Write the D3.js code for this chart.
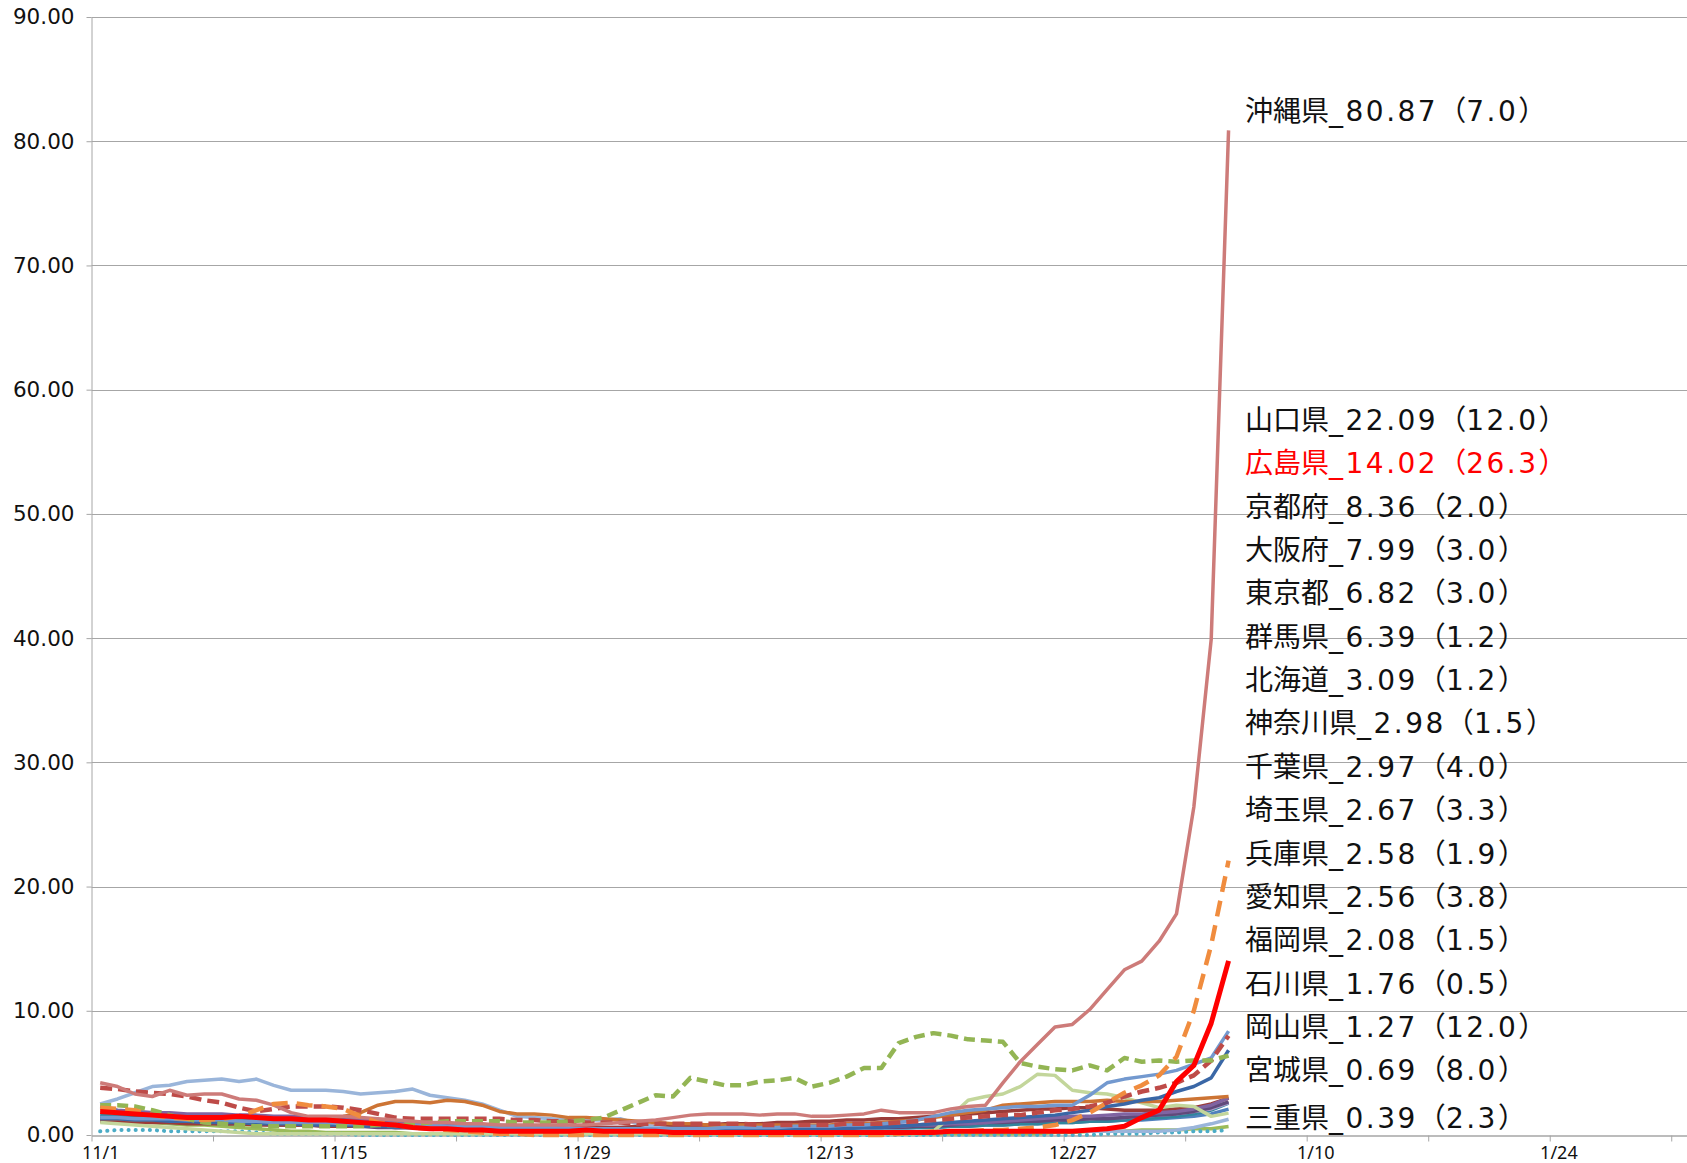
<!DOCTYPE html>
<html>
<head>
<meta charset="utf-8">
<script src="https://cdn.jsdelivr.net/npm/d3@7"></script>
<style>
  body { margin: 0; background: #fff; }
</style>
</head>
<body>
<svg id="chart"></svg>
<script>
// Dimensions of the picture.
var width = 1687;
var height = 1163;

// Date range of the axis (one slot per day) and labels.
var startDay = "2021-11-01";
var endDay = "2022-02-01";
var tickLabels = ["11/1", "11/15", "11/29", "12/13", "12/27", "1/10", "1/24"];
var yTicks = [0, 10, 20, 30, 40, 50, 60, 70, 80, 90];

// Daily values, 11/1 .. 1/5 (Nov, Dec, Jan on separate lines).
var okinawa = [4.2, 3.9, 3.3, 3.1, 3.6, 3.2, 3.3, 3.3, 2.9, 2.8, 2.4, 1.8, 1.5, 1.5, 1.5, 1.4, 1.3, 1.2, 1.1, 1.0, 1.0, 0.9, 0.9, 0.8, 0.8, 0.8, 0.8, 0.8, 0.8, 0.9,
  1.0, 1.1, 1.2, 1.4, 1.6, 1.7, 1.7, 1.7, 1.6, 1.7, 1.7, 1.5, 1.5, 1.6, 1.7, 2.0, 1.8, 1.8, 1.8, 2.1, 2.3, 2.4, 4.2, 5.9, 7.3, 8.7, 8.9, 10.1, 11.7, 13.3, 14.0,
  15.6, 17.8, 26.4, 39.9, 80.87];
var yamaguchi = [2.2, 2.1, 2.0, 1.6, 1.4, 1.3, 1.2, 1.3, 1.5, 2.0, 2.5, 2.6, 2.4, 2.3, 2.1, 1.5, 1.0, 0.8, 0.6, 0.5, 0.4, 0.3, 0.2, 0.1, 0.1, 0.0, 0.0, 0.0, 0.0, 0.0,
  0.0, 0.0, 0.0, 0.0, 0.0, 0.0, 0.0, 0.0, 0.0, 0.0, 0.0, 0.0, 0.0, 0.0, 0.0, 0.0, 0.1, 0.2, 0.3, 0.3, 0.3, 0.4, 0.4, 0.5, 0.6, 0.8, 1.2, 1.8, 2.6, 3.4, 4.0,
  4.8, 6.3, 10.0, 15.3, 22.09];
var hiroshima = [1.9, 1.8, 1.7, 1.6, 1.5, 1.4, 1.4, 1.4, 1.5, 1.4, 1.3, 1.3, 1.2, 1.2, 1.1, 1.0, 0.9, 0.8, 0.6, 0.5, 0.5, 0.4, 0.4, 0.3, 0.3, 0.3, 0.3, 0.3, 0.4, 0.3,
  0.3, 0.3, 0.3, 0.2, 0.2, 0.2, 0.2, 0.2, 0.2, 0.2, 0.2, 0.2, 0.2, 0.2, 0.2, 0.2, 0.2, 0.2, 0.2, 0.3, 0.3, 0.3, 0.3, 0.3, 0.3, 0.3, 0.3, 0.4, 0.5, 0.7, 1.4,
  2.0, 4.3, 5.6, 9.0, 14.02];
var kyoto = [1.4, 1.4, 1.3, 1.3, 1.3, 1.2, 1.2, 1.2, 1.1, 1.1, 1.0, 1.0, 1.0, 1.0, 0.9, 0.9, 0.9, 0.8, 0.8, 0.8, 0.7, 0.7, 0.7, 0.6, 0.6, 0.6, 0.6, 0.5, 0.5, 0.5,
  0.5, 0.5, 0.5, 0.5, 0.5, 0.5, 0.6, 0.6, 0.6, 0.6, 0.7, 0.7, 0.7, 0.8, 0.8, 0.9, 1.0, 1.2, 1.5, 1.8, 2.0, 2.1, 2.2, 2.3, 2.3, 2.4, 2.4, 3.2, 4.2, 4.5, 4.7,
  4.9, 5.2, 5.7, 6.2, 8.36];
var osaka = [3.8, 3.7, 3.5, 3.4, 3.3, 3.1, 2.8, 2.6, 2.2, 1.9, 2.1, 2.3, 2.3, 2.3, 2.2, 2.0, 1.7, 1.4, 1.3, 1.3, 1.3, 1.3, 1.3, 1.3, 1.2, 1.2, 1.1, 1.1, 1.0, 1.0,
  1.0, 0.9, 0.9, 0.9, 0.9, 0.9, 0.9, 0.9, 0.8, 0.8, 0.8, 0.8, 0.8, 0.9, 0.9, 0.9, 1.0, 1.1, 1.2, 1.3, 1.4, 1.5, 1.6, 1.6, 1.8, 2.0, 2.1, 2.3, 2.6, 3.1, 3.5,
  3.8, 4.2, 4.8, 6.0, 7.99];
var tokyo = [1.3, 1.3, 1.2, 1.2, 1.1, 1.1, 1.0, 1.0, 1.0, 0.9, 0.9, 0.9, 0.8, 0.8, 0.8, 0.7, 0.7, 0.6, 0.6, 0.6, 0.5, 0.5, 0.5, 0.4, 0.4, 0.4, 0.4, 0.4, 0.4, 0.4,
  0.4, 0.4, 0.4, 0.4, 0.4, 0.4, 0.4, 0.4, 0.4, 0.5, 0.5, 0.5, 0.5, 0.5, 0.6, 0.6, 0.7, 0.8, 0.9, 1.0, 1.1, 1.2, 1.3, 1.4, 1.5, 1.6, 1.8, 2.0, 2.3, 2.5, 2.8,
  3.0, 3.5, 3.9, 4.6, 6.82];
var gunma = [2.4, 2.4, 2.3, 2.0, 1.6, 1.3, 1.0, 0.9, 0.8, 0.7, 0.7, 0.7, 0.7, 0.7, 0.7, 0.7, 0.8, 0.8, 0.9, 1.0, 1.1, 1.1, 1.1, 1.1, 1.0, 1.0, 1.0, 1.1, 1.2, 1.4,
  2.0, 2.6, 3.2, 3.1, 4.6, 4.3, 4.0, 4.0, 4.3, 4.4, 4.6, 3.9, 4.2, 4.7, 5.4, 5.4, 7.4, 7.9, 8.2, 8.0, 7.7, 7.6, 7.5, 5.8, 5.5, 5.3, 5.2, 5.6, 5.2, 6.2, 5.9,
  6.0, 5.9, 6.0, 6.0, 6.39];
var hokkaido = [1.3, 1.3, 1.2, 1.2, 1.2, 1.1, 1.1, 1.1, 1.1, 1.0, 1.0, 1.1, 1.2, 1.3, 1.5, 1.8, 2.4, 2.7, 2.7, 2.6, 2.8, 2.7, 2.4, 1.9, 1.7, 1.7, 1.6, 1.4, 1.4, 1.3,
  1.2, 1.1, 1.0, 0.9, 0.9, 0.8, 0.8, 0.8, 0.8, 0.8, 0.8, 0.8, 0.8, 0.9, 0.9, 1.0, 1.1, 1.2, 1.4, 1.6, 1.8, 2.0, 2.4, 2.5, 2.6, 2.7, 2.7, 2.7, 2.8, 2.7, 2.7,
  2.7, 2.8, 2.9, 3.0, 3.09];
var kanagawa = [2.3, 2.0, 1.9, 1.8, 1.8, 1.7, 1.7, 1.7, 1.6, 1.6, 1.5, 1.5, 1.4, 1.4, 1.3, 1.3, 1.2, 1.1, 1.0, 0.9, 0.8, 0.8, 0.7, 0.7, 0.6, 0.6, 0.6, 0.5, 0.5, 0.5,
  0.5, 0.5, 0.5, 0.5, 0.5, 0.5, 0.5, 0.5, 0.5, 0.5, 0.6, 0.6, 0.6, 0.6, 0.6, 0.7, 0.7, 0.8, 0.8, 0.9, 0.9, 1.0, 1.1, 1.2, 1.3, 1.4, 1.5, 1.5, 1.6, 1.7, 1.7,
  1.8, 1.9, 2.1, 2.4, 2.98];
var chiba = [1.1, 1.1, 1.0, 1.0, 1.0, 0.9, 0.9, 0.9, 0.9, 0.8, 0.8, 0.8, 0.8, 0.7, 0.7, 0.7, 0.7, 0.6, 0.6, 0.6, 0.6, 0.5, 0.5, 0.5, 0.5, 0.5, 0.5, 0.5, 0.6, 0.6,
  0.6, 0.7, 0.7, 0.8, 0.8, 0.8, 0.9, 0.9, 0.9, 1.0, 1.0, 1.1, 1.1, 1.2, 1.2, 1.3, 1.3, 1.4, 1.5, 1.6, 1.7, 1.8, 1.9, 2.0, 2.1, 2.1, 2.2, 2.2, 2.1, 2.0, 2.0,
  2.0, 2.1, 2.2, 2.5, 2.97];
var saitama = [1.2, 1.2, 1.1, 1.1, 1.0, 1.0, 1.0, 0.9, 0.9, 0.9, 0.8, 0.8, 0.8, 0.7, 0.7, 0.7, 0.6, 0.6, 0.6, 0.5, 0.5, 0.5, 0.5, 0.4, 0.4, 0.4, 0.4, 0.4, 0.4, 0.4,
  0.4, 0.4, 0.4, 0.4, 0.4, 0.4, 0.4, 0.4, 0.4, 0.4, 0.4, 0.5, 0.5, 0.5, 0.5, 0.6, 0.6, 0.7, 0.7, 0.8, 0.9, 1.0, 1.0, 1.1, 1.1, 1.2, 1.2, 1.3, 1.3, 1.4, 1.5,
  1.6, 1.7, 1.9, 2.2, 2.67];
var hyogo = [2.0, 1.9, 1.9, 1.8, 1.7, 1.6, 1.6, 1.5, 1.5, 1.4, 1.4, 1.3, 1.3, 1.2, 1.2, 1.1, 1.1, 1.0, 1.0, 0.9, 0.9, 0.8, 0.8, 0.8, 0.7, 0.7, 0.7, 0.6, 0.6, 0.6,
  0.6, 0.6, 0.6, 0.6, 0.6, 0.6, 0.6, 0.6, 0.6, 0.6, 0.6, 0.6, 0.6, 0.7, 0.7, 0.7, 0.8, 0.8, 0.9, 0.9, 1.0, 1.0, 1.1, 1.1, 1.2, 1.2, 1.3, 1.3, 1.4, 1.4, 1.5,
  1.6, 1.7, 1.9, 2.1, 2.58];
var aichi = [1.6, 1.5, 1.4, 1.5, 1.4, 1.3, 1.3, 1.2, 1.2, 1.1, 1.1, 1.0, 1.0, 0.9, 0.9, 0.8, 0.8, 0.7, 0.7, 0.6, 0.6, 0.5, 0.5, 0.5, 0.4, 0.4, 0.4, 0.4, 0.3, 0.3,
  0.3, 0.3, 0.3, 0.3, 0.3, 0.3, 0.3, 0.3, 0.3, 0.3, 0.3, 0.3, 0.4, 0.4, 0.4, 0.5, 0.5, 0.6, 0.6, 0.7, 0.7, 0.8, 0.8, 0.9, 0.9, 1.0, 1.0, 1.1, 1.1, 1.2, 1.3,
  1.4, 1.5, 1.7, 2.0, 2.56];
var fukuoka = [1.5, 1.4, 1.4, 1.3, 1.3, 1.2, 1.2, 1.1, 1.1, 1.0, 1.0, 1.0, 0.9, 0.9, 0.9, 0.8, 0.8, 0.8, 0.7, 0.7, 0.7, 0.6, 0.6, 0.6, 0.5, 0.5, 0.5, 0.5, 0.4, 0.4,
  0.4, 0.4, 0.4, 0.4, 0.4, 0.4, 0.4, 0.4, 0.4, 0.4, 0.4, 0.4, 0.4, 0.4, 0.5, 0.5, 0.5, 0.6, 0.6, 0.7, 0.7, 0.8, 0.8, 0.9, 0.9, 1.0, 1.0, 1.1, 1.1, 1.2, 1.2,
  1.3, 1.4, 1.5, 1.7, 2.08];
var ishikawa = [1.0, 0.9, 0.8, 0.7, 0.6, 0.5, 0.4, 0.3, 0.2, 0.1, 0.1, 0.1, 0.1, 0.1, 0.1, 0.1, 0.1, 0.1, 0.1, 0.1, 0.1, 0.1, 0.1, 0.1, 0.1, 0.1, 0.1, 0.1, 0.1, 0.1,
  0.1, 0.1, 0.1, 0.1, 0.1, 0.1, 0.1, 0.1, 0.1, 0.1, 0.1, 0.1, 0.1, 0.1, 0.1, 0.1, 0.1, 0.1, 0.3, 1.5, 2.8, 3.1, 3.3, 3.9, 4.9, 4.8, 3.6, 3.4, 3.3, 3.0, 2.6,
  2.2, 2.4, 2.3, 1.5, 1.76];
var okayama = [2.5, 2.9, 3.4, 3.9, 4.0, 4.3, 4.4, 4.5, 4.3, 4.5, 4.0, 3.6, 3.6, 3.6, 3.5, 3.3, 3.4, 3.5, 3.7, 3.2, 3.0, 2.8, 2.5, 2.0, 1.5, 1.4, 1.3, 1.2, 1.2, 1.2,
  1.3, 0.9, 0.6, 0.5, 0.4, 0.3, 0.3, 0.3, 0.3, 0.3, 0.3, 0.3, 0.3, 0.3, 0.3, 0.3, 0.3, 0.3, 0.3, 0.3, 0.3, 0.3, 0.3, 0.3, 0.3, 0.3, 0.3, 0.3, 0.3, 0.3, 0.3,
  0.3, 0.4, 0.6, 0.9, 1.27];
var miyagi = [1.2, 1.1, 1.0, 1.0, 0.9, 0.8, 0.8, 0.7, 0.6, 0.5, 0.4, 0.3, 0.3, 0.2, 0.2, 0.2, 0.2, 0.2, 0.1, 0.1, 0.1, 0.1, 0.1, 0.1, 0.1, 0.1, 0.1, 0.1, 0.1, 0.1,
  0.1, 0.1, 0.1, 0.1, 0.1, 0.1, 0.1, 0.1, 0.1, 0.1, 0.1, 0.1, 0.1, 0.1, 0.1, 0.1, 0.1, 0.1, 0.1, 0.1, 0.1, 0.1, 0.1, 0.1, 0.1, 0.2, 0.2, 0.3, 0.3, 0.3, 0.4,
  0.4, 0.4, 0.5, 0.5, 0.69];
var mie = [0.3, 0.4, 0.4, 0.4, 0.3, 0.3, 0.3, 0.3, 0.3, 0.2, 0.1, 0.1, 0.1, 0.1, 0.1, 0.0, 0.0, 0.0, 0.0, 0.0, 0.0, 0.0, 0.0, 0.0, 0.0, 0.0, 0.0, 0.0, 0.0, 0.0,
  0.0, 0.0, 0.0, 0.0, 0.0, 0.0, 0.0, 0.0, 0.0, 0.0, 0.0, 0.0, 0.0, 0.0, 0.0, 0.0, 0.0, 0.0, 0.0, 0.0, 0.0, 0.0, 0.0, 0.0, 0.0, 0.0, 0.0, 0.0, 0.1, 0.1, 0.1,
  0.2, 0.2, 0.3, 0.3, 0.39];

// Label order (top to bottom) and the bracketed figure after each value.
var labelNames = ["山口県", "広島県", "京都府", "大阪府", "東京都", "群馬県", "北海道", "神奈川県", "千葉県",
  "埼玉県", "兵庫県", "愛知県", "福岡県", "石川県", "岡山県", "宮城県", "三重県"];
var bracketValues = ["12.0", "26.3", "2.0", "3.0", "3.0", "1.2", "1.2", "1.5", "4.0",
  "3.3", "1.9", "3.8", "1.5", "0.5", "12.0", "8.0", "2.3"];

// Series table, drawn in this order (later on top).
var series = [
  {name: "宮城県", values: miyagi},
  {name: "三重県", values: mie},
  {name: "福岡県", values: fukuoka},
  {name: "愛知県", values: aichi},
  {name: "兵庫県", values: hyogo},
  {name: "埼玉県", values: saitama},
  {name: "千葉県", values: chiba},
  {name: "神奈川県", values: kanagawa},
  {name: "岡山県", values: okayama},
  {name: "石川県", values: ishikawa},
  {name: "北海道", values: hokkaido},
  {name: "東京都", values: tokyo},
  {name: "京都府", values: kyoto},
  {name: "大阪府", values: osaka},
  {name: "群馬県", values: gunma},
  {name: "沖縄県", values: okinawa},
  {name: "山口県", values: yamaguchi},
  {name: "広島県", values: hiroshima}
];

// Line styles by prefecture.
var styles = {
  "沖縄県": {color: "#CD7B79", w: 3.5},
  "山口県": {color: "#F08C3E", w: 4.5, dash: "16,9"},
  "広島県": {color: "#FF0000", w: 5},
  "京都府": {color: "#7399CF", w: 3.5},
  "大阪府": {color: "#BE4B48", w: 4.5, dash: "12,6"},
  "東京都": {color: "#3A67A6", w: 3.5},
  "群馬県": {color: "#93B554", w: 4.5, dash: "11,6"},
  "北海道": {color: "#CD7434", w: 3.5},
  "神奈川県": {color: "#8064A2", w: 3.5},
  "千葉県": {color: "#9B3B38", w: 3.5},
  "埼玉県": {color: "#604A7B", w: 3.5},
  "兵庫県": {color: "#A99AC9", w: 3.5},
  "愛知県": {color: "#31859C", w: 3.5},
  "福岡県": {color: "#4F81BD", w: 3.5},
  "石川県": {color: "#C3D69B", w: 3.5},
  "岡山県": {color: "#9AB5DA", w: 3.5},
  "宮城県": {color: "#9BBB59", w: 3.5},
  "三重県": {color: "#4BACC6", w: 4, dash: "0.1,7", cap: "round"}
};

var t0 = d3.utcParse("%Y-%m-%d")(startDay);
var t1 = d3.utcParse("%Y-%m-%d")(endDay);

var svg = d3.select("#chart")
    .attr("width", width)
    .attr("height", height)
    .style("display", "block");

var x = d3.scaleUtc().domain([t0, t1]).range([91.5, 1688.6]);
var y = d3.scaleLinear().domain([0, 90]).range([1135, 17]);

// Points sit in the middle of their day slot.
function dayCenter(i) { return d3.utcHour.offset(d3.utcDay.offset(t0, i), 12); }

// Horizontal gridlines.
svg.append("g")
  .selectAll("line")
  .data(yTicks.filter(function(d) { return d > 0; }))
  .enter().append("line")
    .attr("x1", 91.5)
    .attr("x2", width)
    .attr("y1", function(d) { return Math.round(y(d)) + 0.5; })
    .attr("y2", function(d) { return Math.round(y(d)) + 0.5; })
    .style("stroke", "#A6A6A6")
    .style("stroke-width", 1);

// Y axis.
var yAxis = svg.append("g")
    .attr("transform", "translate(91.5,0)")
    .call(d3.axisLeft(y).tickValues(yTicks).tickFormat(d3.format(".2f")).tickSize(5).tickSizeOuter(0).tickPadding(12));
yAxis.select(".domain").style("stroke", "#A6A6A6");
yAxis.selectAll(".tick line").style("stroke", "#A6A6A6");
yAxis.selectAll("text")
    .style("font-family", "'DejaVu Sans', Verdana, sans-serif")
    .style("font-size", "21.5px")
    .style("fill", "#111");

// X axis: weekly tick marks at slot boundaries.
var weekTicks = d3.range(0, 93, 7).map(function(i) { return d3.utcDay.offset(t0, i); });
var xAxis = svg.append("g")
    .attr("transform", "translate(0,1135.5)")
    .call(d3.axisBottom(x).tickValues(weekTicks).tickSize(6).tickSizeOuter(0).tickFormat(""));
xAxis.select(".domain").style("stroke", "#A6A6A6").style("stroke-width", 1.5);
xAxis.selectAll(".tick line").style("stroke", "#A6A6A6");

// X labels centred in their day slot, every two weeks.
var labelDays = tickLabels.map(function(d, i) { return dayCenter(i * 14); });
var xLab = svg.append("g")
    .attr("transform", "translate(0,1135.5)")
    .call(d3.axisBottom(x).tickValues(labelDays).tickSize(0).tickPadding(11)
      .tickFormat(function(d, i) { return tickLabels[i]; }));
xLab.select(".domain").remove();
xLab.selectAll("text")
    .style("font-family", "'Noto Sans', sans-serif")
    .style("font-size", "18px")
    .style("fill", "#111");

// Lines.
var line = d3.line()
    .x(function(d, i) { return x(dayCenter(i)); })
    .y(function(d) { return y(d); });

svg.append("g")
  .selectAll("path")
  .data(series)
  .enter().append("path")
    .attr("d", function(d) { return line(d.values); })
    .style("fill", "none")
    .style("stroke", function(d) { return styles[d.name].color; })
    .style("stroke-width", function(d) { return styles[d.name].w; })
    .style("stroke-dasharray", function(d) { return styles[d.name].dash || null; })
    .style("stroke-linecap", function(d) { return styles[d.name].cap || "butt"; })
    .style("stroke-linejoin", "round");

// End labels.
var lastValue = {};
series.forEach(function(s) { lastValue[s.name] = s.values[s.values.length - 1]; });

function addLabel(name, bracket, baseY, color) {
  var t = svg.append("text")
      .attr("x", 1245)
      .attr("y", baseY)
      .style("fill", color)
      .style("font-size", "28px");
  t.append("tspan")
      .style("font-family", "'Noto Sans CJK JP', sans-serif")
      .text(name);
  t.append("tspan")
      .style("font-family", "'DejaVu Sans', sans-serif")
      .style("letter-spacing", "2.5px")
      .text("_" + lastValue[name].toFixed(2));
  t.append("tspan")
      .style("font-family", "'Noto Sans CJK JP', sans-serif")
      .text("（");
  t.append("tspan")
      .style("font-family", "'DejaVu Sans', sans-serif")
      .style("letter-spacing", "2.5px")
      .text(bracket);
  t.append("tspan")
      .style("font-family", "'Noto Sans CJK JP', sans-serif")
      .text("）");
}

addLabel("沖縄県", "7.0", 121, "#111");
labelNames.forEach(function(name, i) {
  var baseY = 430 + i * 43.35 + (i === labelNames.length - 1 ? 4 : 0);
  addLabel(name, bracketValues[i], baseY, name === "広島県" ? "#FF0000" : "#111");
});
</script>
</body>
</html>
